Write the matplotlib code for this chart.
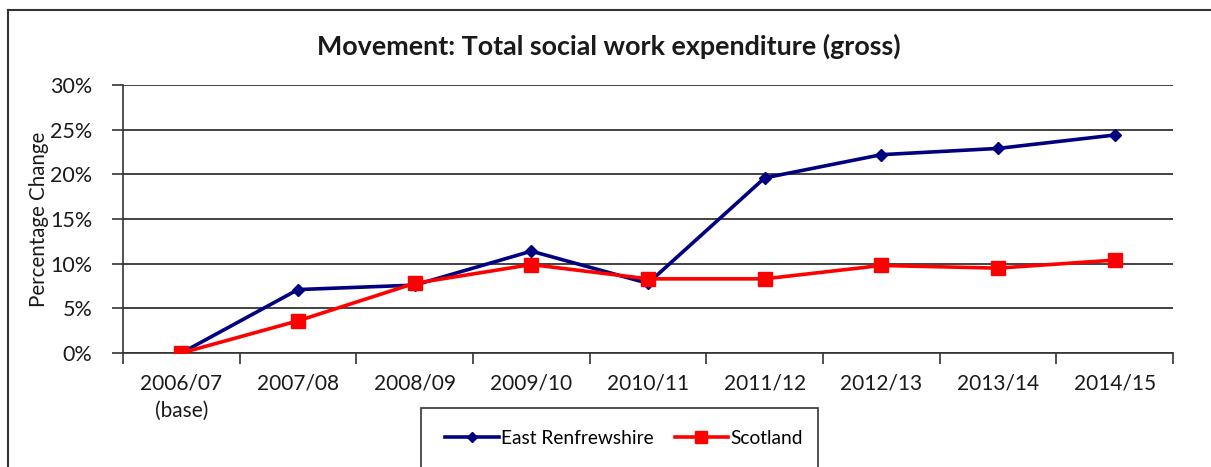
import matplotlib.pyplot as plt
from matplotlib.lines import Line2D
from matplotlib.patches import Rectangle
from matplotlib.ticker import FuncFormatter, FixedLocator, NullFormatter

plt.rcParams['font.family'] = ['Lato', 'DejaVu Sans']

years = ["2006/07\n(base)", "2007/08", "2008/09", "2009/10", "2010/11",
         "2011/12", "2012/13", "2013/14", "2014/15"]
east_renfrewshire = [0.0, 7.1, 7.6, 11.4, 7.8, 19.6, 22.2, 22.9, 24.4]
scotland = [0.0, 3.6, 7.8, 9.9, 8.3, 8.3, 9.8, 9.5, 10.4]

W, H = 1211, 467
fig = plt.figure(figsize=(W / 100, H / 100), dpi=100)
ax = fig.add_axes([123 / W, 1 - 353 / H, 1050 / W, 268 / H])

xs = list(range(len(years)))
ax.plot(xs, east_renfrewshire, color='#000080', linewidth=2.6, marker='D',
        markersize=6.5, label='East Renfrewshire', zorder=3)
ax.plot(xs, scotland, color='#ff0000', linewidth=2.6, marker='s',
        markersize=10, label='Scotland', zorder=4)

ax.set_xlim(-0.5, len(years) - 0.5)
ax.set_ylim(0, 30)
ax.set_yticks(range(0, 31, 5))
ax.yaxis.set_major_formatter(FuncFormatter(lambda v, p: f"{int(v)}%"))
ax.grid(axis='y', color='#222222', linewidth=1.2)
ax.set_axisbelow(True)

# category labels centred, tick marks on the boundaries
ax.xaxis.set_major_locator(FixedLocator([i - 0.5 for i in range(len(years) + 1)]))
ax.xaxis.set_major_formatter(NullFormatter())
ax.xaxis.set_minor_locator(FixedLocator(xs))
ax.set_xticklabels(years, minor=True, linespacing=1.45)
ax.tick_params(axis='x', which='major', direction='out', length=8, width=1.2,
               color='#333333')
ax.tick_params(axis='x', which='minor', length=0, pad=15, labelsize=15,
               labelcolor='#1a1a1a')
ax.tick_params(axis='y', direction='out', length=8, width=1.2, color='#333333',
               labelsize=15.5, labelcolor='#1a1a1a', pad=14)

for s in ['top', 'right']:
    ax.spines[s].set_visible(False)
for s in ['left', 'bottom']:
    ax.spines[s].set_color('#333333')
    ax.spines[s].set_linewidth(1.2)

ax.set_ylabel("Percentage Change", fontsize=14.8, color='#1a1a1a', labelpad=1)
fig.text(609 / W, 1 - 46 / H, "Movement: Total social work expenditure (gross)",
         ha='center', va='center', fontsize=19.4, fontweight='bold', color='#1a1a1a')

# outer chart border (open at right and bottom like the cropped original)
fig.add_artist(Line2D([8 / W, 1.0], [1 - 9.5 / H] * 2, color='#333333', linewidth=1.5))
fig.add_artist(Line2D([8 / W] * 2, [0, 1 - 9.5 / H], color='#333333', linewidth=1.5))

# legend box, cut off at the bottom edge
fig.add_artist(Rectangle((421 / W, -0.05), 397 / W, 0.05 + 1 - 408 / H,
                         transform=fig.transFigure, fill=False,
                         edgecolor='#333333', linewidth=1.2))
fig.legend(loc='center', bbox_to_anchor=(624 / W, 1 - 438 / H), ncol=2,
           frameon=False, fontsize=13.8, handlelength=2.8, handletextpad=0.1,
           columnspacing=1.1, markerscale=0.8)

fig.savefig("out.png", dpi=100)
